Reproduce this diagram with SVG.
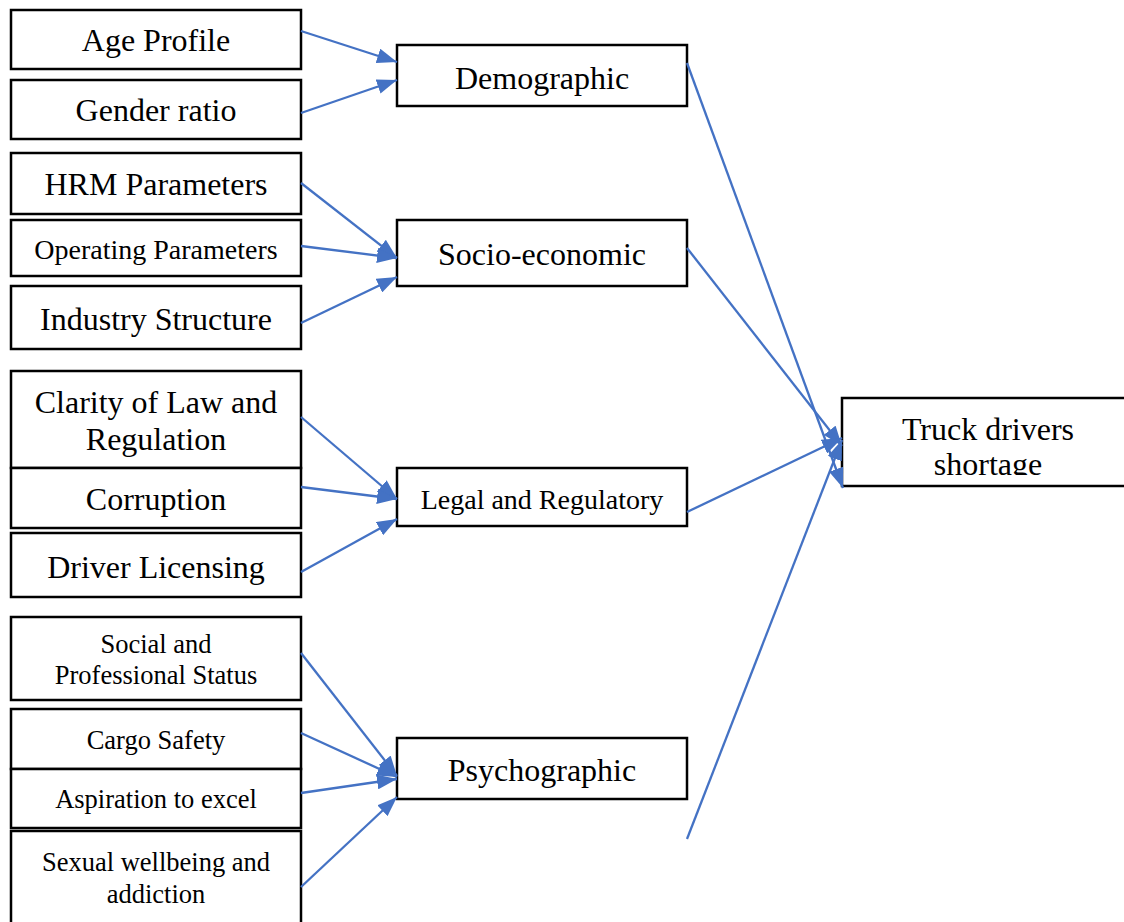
<svg xmlns="http://www.w3.org/2000/svg" width="1124" height="922" viewBox="0 0 1124 922">
<style>
.box{fill:#fff;stroke:#000;stroke-width:2.5}
.t{font-family:"Liberation Serif","Times New Roman",serif;fill:#000;text-anchor:middle}
.l{font-size:32px}
.m{font-size:28px}
.s{font-size:26.5px}
.c{stroke:#4472C4;stroke-width:2.3;fill:none;marker-end:url(#ah)}
</style>
<defs>
<marker id="ah" viewBox="0 0 20 15" refX="20" refY="7.5" markerWidth="20" markerHeight="15" markerUnits="userSpaceOnUse" orient="auto">
<path d="M0,0 L20,7.5 L0,15 z" fill="#4472C4"/>
</marker>
<clipPath id="tclip"><rect x="842" y="398" width="282" height="77"/></clipPath>
</defs>
<rect width="1124" height="922" fill="#fff"/>

<g id="age"><rect class="box" x="11" y="10" width="290" height="59"/><text class="t l" x="156" y="51">Age Profile</text></g>
<g id="gender"><rect class="box" x="11" y="80" width="290" height="59"/><text class="t l" x="156" y="121">Gender ratio</text></g>
<g id="hrm"><rect class="box" x="11" y="153" width="290" height="61"/><text class="t l" x="156" y="195">HRM Parameters</text></g>
<g id="operating"><rect class="box" x="11" y="220" width="290" height="56"/><text class="t m" x="156" y="259">Operating Parameters</text></g>
<g id="industry"><rect class="box" x="11" y="286" width="290" height="63"/><text class="t l" x="156" y="330">Industry Structure</text></g>
<g id="clarity"><rect class="box" x="11" y="371" width="290" height="97"/><text class="t l" x="156" y="413">Clarity of Law and</text><text class="t l" x="156" y="450">Regulation</text></g>
<g id="corruption"><rect class="box" x="11" y="468" width="290" height="60"/><text class="t l" x="156" y="510">Corruption</text></g>
<g id="licensing"><rect class="box" x="11" y="533" width="290" height="64"/><text class="t l" x="156" y="578">Driver Licensing</text></g>
<g id="social"><rect class="box" x="11" y="617" width="290" height="83"/><text class="t s" x="156" y="653">Social and</text><text class="t s" x="156" y="684">Professional Status</text></g>
<g id="cargo"><rect class="box" x="11" y="709" width="290" height="60"/><text class="t s" x="156" y="749">Cargo Safety</text></g>
<g id="aspiration"><rect class="box" x="11" y="769" width="290" height="59"/><text class="t s" x="156" y="808">Aspiration to excel</text></g>
<g id="sexual"><rect class="box" x="11" y="831" width="290" height="100"/><text class="t s" x="156" y="871">Sexual wellbeing and</text><text class="t s" x="156" y="903">addiction</text></g>

<g id="demographic"><rect class="box" x="397" y="45" width="290" height="61"/><text class="t l" x="542" y="89">Demographic</text></g>
<g id="socioeconomic"><rect class="box" x="397" y="220" width="290" height="66"/><text class="t l" x="542" y="265">Socio-economic</text></g>
<g id="legal"><rect class="box" x="397" y="468" width="290" height="58"/><text class="t m" x="542" y="509">Legal and Regulatory</text></g>
<g id="psychographic"><rect class="box" x="397" y="738" width="290" height="61"/><text class="t l" x="542" y="781">Psychographic</text></g>

<g id="shortage"><rect class="box" x="842" y="398" width="300" height="88"/><g clip-path="url(#tclip)"><text class="t l" x="988" y="440">Truck drivers</text><text class="t l" x="988" y="475">shortage</text></g></g>

<g id="connectors">
<line class="c" x1="301" y1="31" x2="397" y2="62"/>
<line class="c" x1="301" y1="113" x2="397" y2="80"/>
<line class="c" x1="301" y1="183" x2="397" y2="258"/>
<line class="c" x1="301" y1="246" x2="397" y2="258"/>
<line class="c" x1="301" y1="323" x2="397" y2="277"/>
<line class="c" x1="301" y1="417" x2="397" y2="499"/>
<line class="c" x1="301" y1="487" x2="397" y2="499"/>
<line class="c" x1="301" y1="572" x2="397" y2="519"/>
<line class="c" x1="301" y1="653" x2="397" y2="776"/>
<line class="c" x1="301" y1="733" x2="397" y2="777"/>
<line class="c" x1="301" y1="793" x2="397" y2="779"/>
<line class="c" x1="301" y1="887" x2="397" y2="797"/>
<line class="c" x1="687" y1="63" x2="843" y2="488"/>
<line class="c" x1="687" y1="248" x2="842" y2="446"/>
<line class="c" x1="687" y1="512" x2="842" y2="438"/>
<line class="c" x1="687" y1="839" x2="842" y2="440"/>
</g>
</svg>
